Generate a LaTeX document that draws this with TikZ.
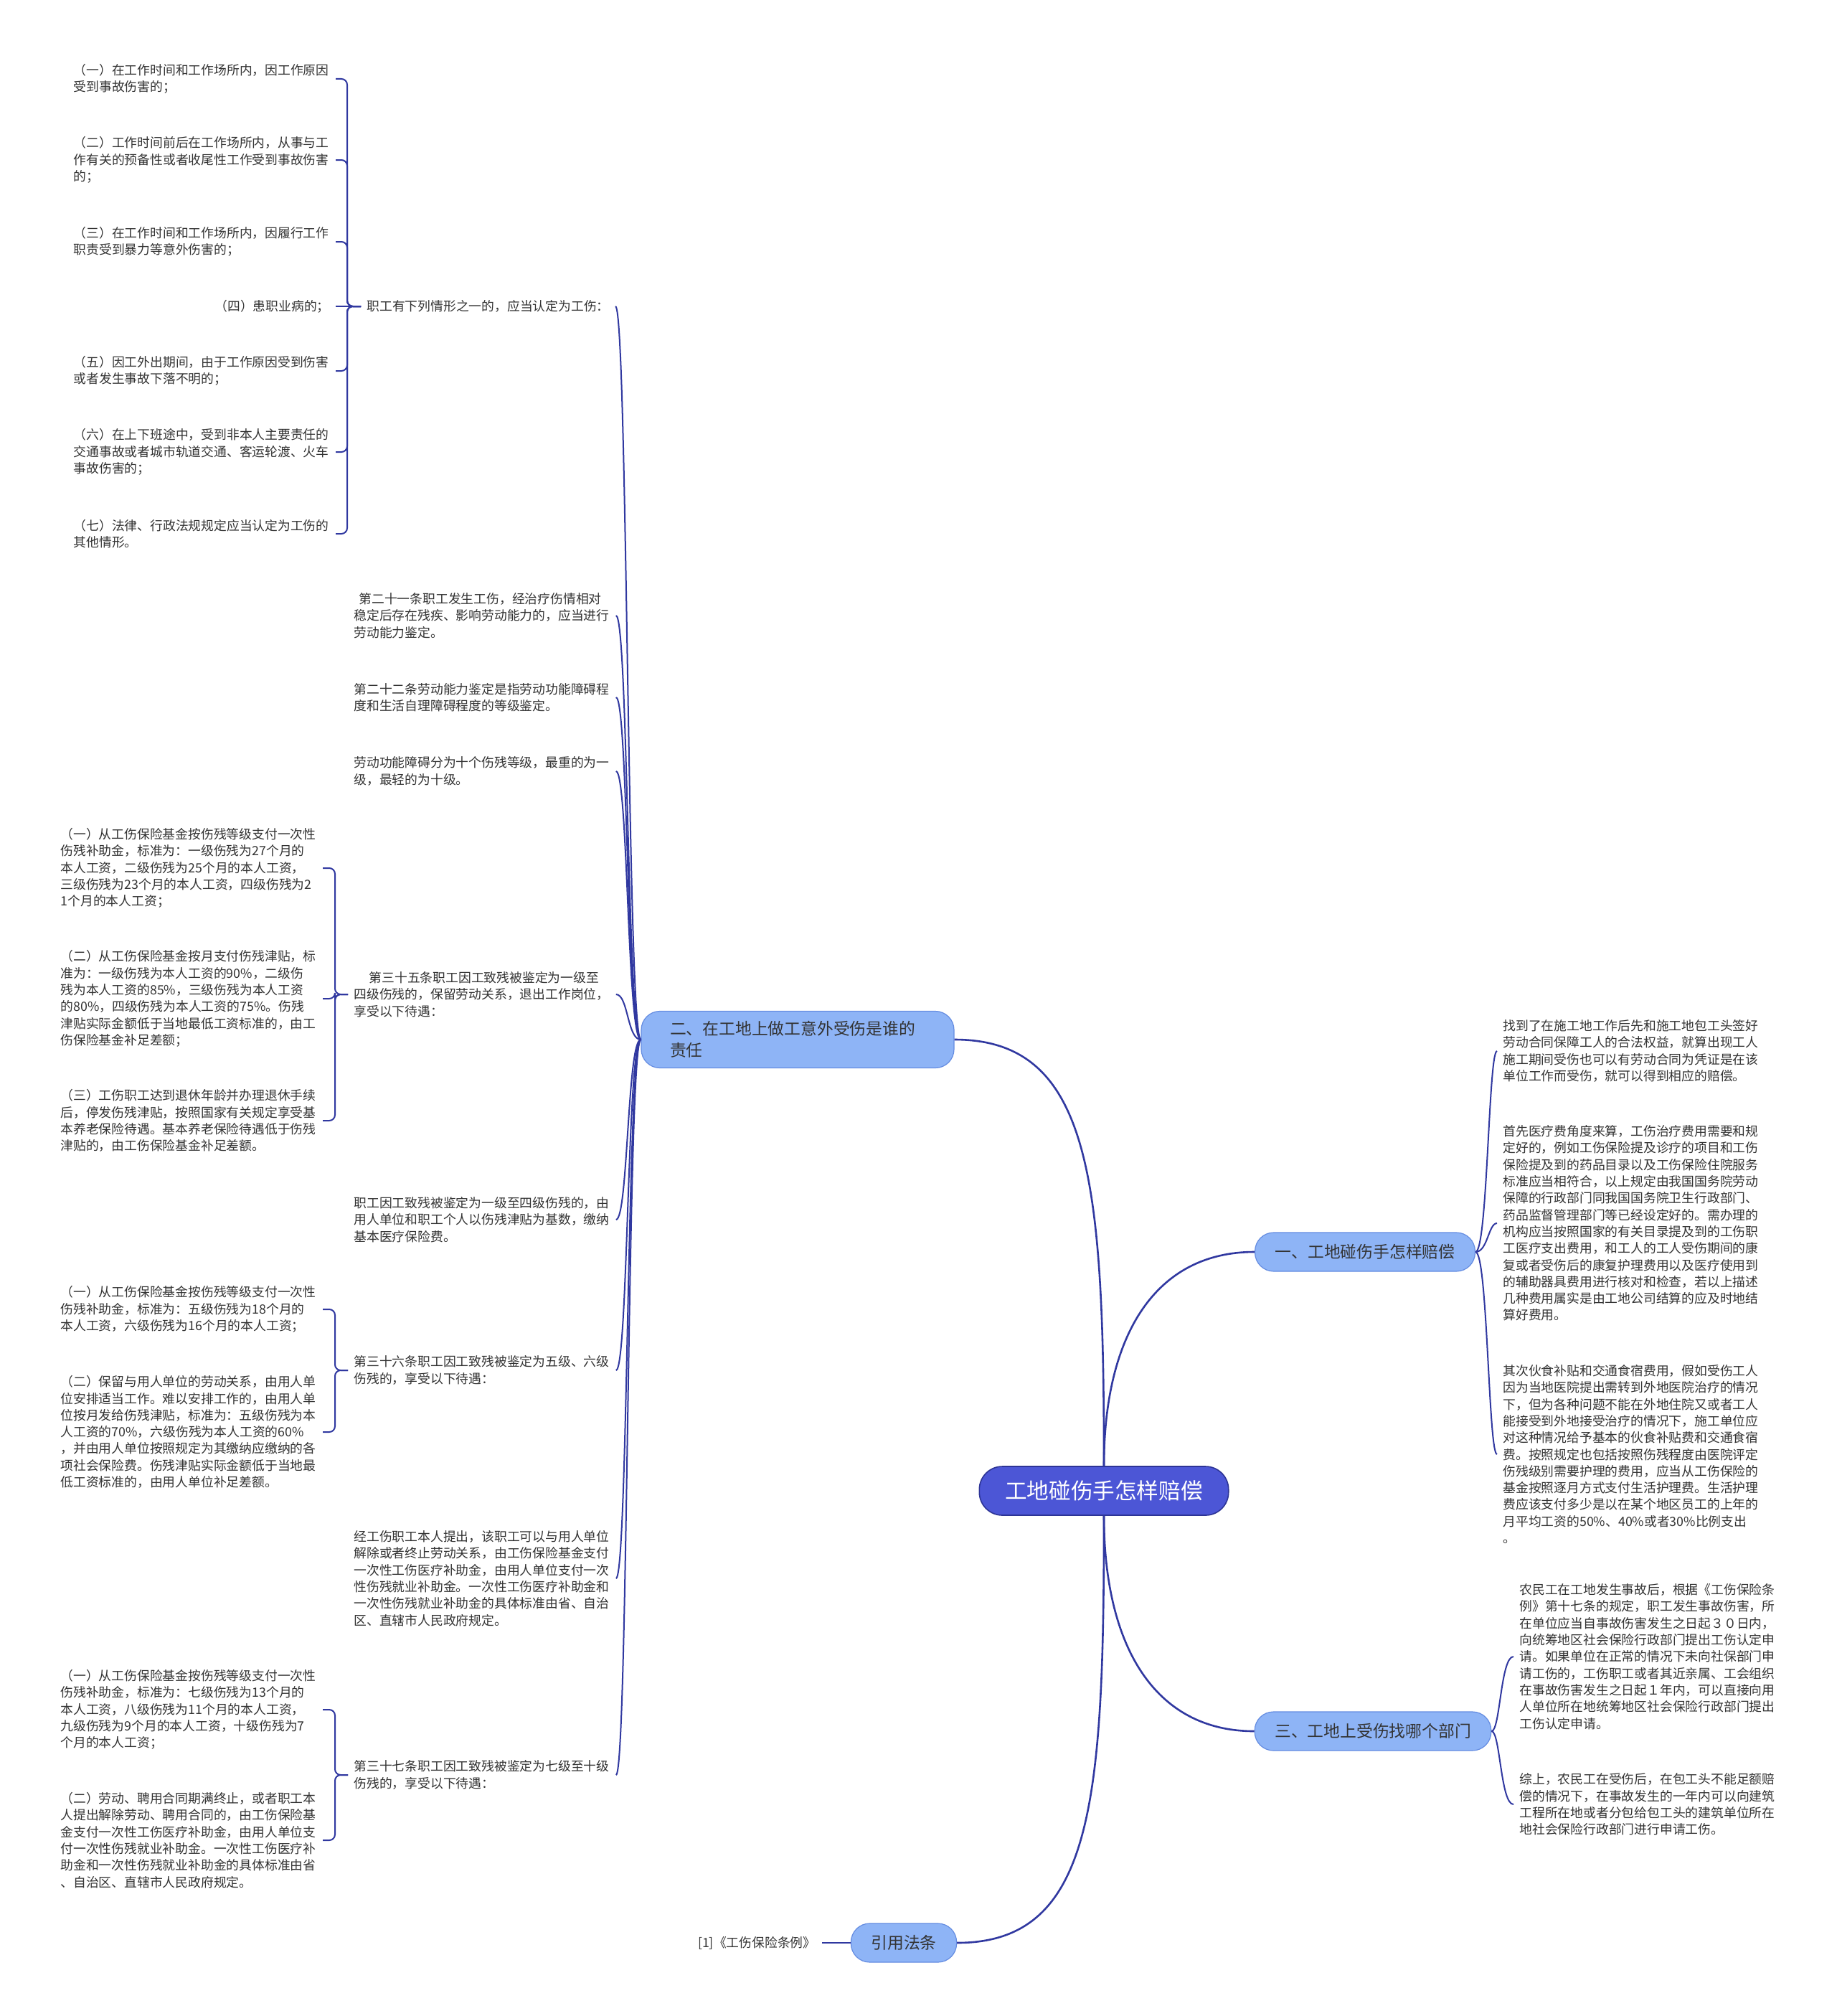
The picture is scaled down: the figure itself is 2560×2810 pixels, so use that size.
\documentclass[tikz,border=0pt]{standalone}
\usepackage{fontspec}
\setmainfont{Noto Sans CJK SC}
\usetikzlibrary{positioning}
\definecolor{linkblue}{RGB}{48,56,160}
\definecolor{rootfill}{RGB}{76,86,214}
\definecolor{rootline}{RGB}{45,52,150}
\definecolor{brfill}{RGB}{142,180,246}
\definecolor{brline}{RGB}{100,140,225}
\definecolor{txtgray}{RGB}{51,51,51}

\begin{document}
\begin{tikzpicture}[
  x=0.5pt, y=0.5pt,
  root/.style={
    rectangle, rounded corners=16pt, fill=rootfill, draw=rootline, line width=0.8pt,
    text=white, font=\fontsize{15.3pt}{19pt}\selectfont, minimum height=34pt, inner xsep=18pt
  },
  branch/.style={
    rectangle, rounded corners=13pt, fill=brfill, draw=brline, line width=0.6pt,
    text=txtgray, font=\fontsize{11.4pt}{15.2pt}\selectfont, minimum height=27pt, inner xsep=14pt
  },
  txt/.style={text=txtgray, font=\fontsize{8.9pt}{11.65pt}\selectfont, align=left, inner xsep=4pt, inner ysep=2pt},
  leaf/.style={txt, text width=178.5pt},
  link/.style={draw=linkblue, line width=1pt},
  trunk/.style={draw=linkblue, line width=1.3pt},
  brace/.style={link, rounded corners=4pt},
]

\path[use as bounding box, fill=white] (0,0) rectangle (2560,-2810);

\node[root] (R) at (1539,-2078) {工地碰伤手怎样赔偿};

\node[branch, text width=178pt, inner xsep=20pt, minimum height=39.5pt, align=left] (B2) at (1112,-1449) {二、在工地上做工意外受伤是谁的\\责任};
\node[branch] (B1) at (1903,-1745) {一、工地碰伤手怎样赔偿};
\node[branch] (B3) at (1914,-2413) {三、工地上受伤找哪个部门};
\node[branch] (B4) at (1260,-2708) {引用法条};
\node[txt, left=20pt of B4] (REF) {[1]《工伤保险条例》};

\node[txt, anchor=west] (M1) at (503,-427) {职工有下列情形之一的，应当认定为工伤：};
\node[leaf, anchor=west] (M2) at (485,-858) {\hspace*{0.4em}第二十一条职工发生工伤，经治疗伤情相对\\稳定后存在残疾、影响劳动能力的，应当进行\\劳动能力鉴定。};
\node[leaf, anchor=west] (M3) at (485,-972) {第二十二条劳动能力鉴定是指劳动功能障碍程\\度和生活自理障碍程度的等级鉴定。};
\node[leaf, anchor=west] (M4) at (485,-1075) {劳动功能障碍分为十个伤残等级，最重的为一\\级，最轻的为十级。};
\node[leaf, anchor=west] (M5) at (485,-1386) {\hspace*{1.2em}第三十五条职工因工致残被鉴定为一级至\\四级伤残的，保留劳动关系，退出工作岗位，\\享受以下待遇：};
\node[leaf, anchor=west] (M6) at (485,-1700) {职工因工致残被鉴定为一级至四级伤残的，由\\用人单位和职工个人以伤残津贴为基数，缴纳\\基本医疗保险费。};
\node[leaf, anchor=west] (M7) at (485,-1910) {第三十六条职工因工致残被鉴定为五级、六级\\伤残的，享受以下待遇：};
\node[leaf, anchor=west] (M8) at (485,-2200) {经工伤职工本人提出，该职工可以与用人单位\\解除或者终止劳动关系，由工伤保险基金支付\\一次性工伤医疗补助金，由用人单位支付一次\\性伤残就业补助金。一次性工伤医疗补助金和\\一次性伤残就业补助金的具体标准由省、自治\\区、直辖市人民政府规定。};
\node[leaf, anchor=west] (M9) at (485,-2474) {第三十七条职工因工致残被鉴定为七级至十级\\伤残的，享受以下待遇：};

\node[leaf, anchor=east] (L1) at (468,-110) {（一）在工作时间和工作场所内，因工作原因\\受到事故伤害的；};
\node[leaf, anchor=east] (L2) at (468,-223) {（二）工作时间前后在工作场所内，从事与工\\作有关的预备性或者收尾性工作受到事故伤害\\的；};
\node[leaf, anchor=east] (L3) at (468,-337) {（三）在工作时间和工作场所内，因履行工作\\职责受到暴力等意外伤害的；};
\node[txt, anchor=east] (L4) at (468,-427) {（四）患职业病的；};
\node[leaf, anchor=east] (L5) at (468,-517) {（五）因工外出期间，由于工作原因受到伤害\\或者发生事故下落不明的；};
\node[leaf, anchor=east] (L6) at (468,-630) {（六）在上下班途中，受到非本人主要责任的\\交通事故或者城市轨道交通、客运轮渡、火车\\事故伤害的；};
\node[leaf, anchor=east] (L7) at (468,-744) {（七）法律、行政法规规定应当认定为工伤的\\其他情形。};

\node[leaf, anchor=east] (P1) at (450,-1210) {（一）从工伤保险基金按伤残等级支付一次性\\伤残补助金，标准为：一级伤残为27个月的\\本人工资，二级伤残为25个月的本人工资，\\三级伤残为23个月的本人工资，四级伤残为2\\1个月的本人工资；};
\node[leaf, anchor=east] (P2) at (450,-1392) {（二）从工伤保险基金按月支付伤残津贴，标\\准为：一级伤残为本人工资的90\%，二级伤\\残为本人工资的85\%，三级伤残为本人工资\\的80\%，四级伤残为本人工资的75\%。伤残\\津贴实际金额低于当地最低工资标准的，由工\\伤保险基金补足差额；};
\node[leaf, anchor=east] (P3) at (450,-1562) {（三）工伤职工达到退休年龄并办理退休手续\\后，停发伤残津贴，按照国家有关规定享受基\\本养老保险待遇。基本养老保险待遇低于伤残\\津贴的，由工伤保险基金补足差额。};

\node[leaf, anchor=east] (Q1) at (450,-1825) {（一）从工伤保险基金按伤残等级支付一次性\\伤残补助金，标准为：五级伤残为18个月的\\本人工资，六级伤残为16个月的本人工资；};
\node[leaf, anchor=east] (Q2) at (450,-1996) {（二）保留与用人单位的劳动关系，由用人单\\位安排适当工作。难以安排工作的，由用人单\\位按月发给伤残津贴，标准为：五级伤残为本\\人工资的70\%，六级伤残为本人工资的60\%\\，并由用人单位按照规定为其缴纳应缴纳的各\\项社会保险费。伤残津贴实际金额低于当地最\\低工资标准的，由用人单位补足差额。};

\node[leaf, anchor=east] (T1) at (450,-2383) {（一）从工伤保险基金按伤残等级支付一次性\\伤残补助金，标准为：七级伤残为13个月的\\本人工资，八级伤残为11个月的本人工资，\\九级伤残为9个月的本人工资，十级伤残为7\\个月的本人工资；};
\node[leaf, anchor=east] (T2) at (450,-2565) {（二）劳动、聘用合同期满终止，或者职工本\\人提出解除劳动、聘用合同的，由工伤保险基\\金支付一次性工伤医疗补助金，由用人单位支\\付一次性伤残就业补助金。一次性工伤医疗补\\助金和一次性伤残就业补助金的具体标准由省\\、自治区、直辖市人民政府规定。};

\node[leaf, anchor=west] (K1) at (2087,-1465) {找到了在施工地工作后先和施工地包工头签好\\劳动合同保障工人的合法权益，就算出现工人\\施工期间受伤也可以有劳动合同为凭证是在该\\单位工作而受伤，就可以得到相应的赔偿。};
\node[leaf, anchor=west] (K2) at (2087,-1705) {首先医疗费角度来算，工伤治疗费用需要和规\\定好的，例如工伤保险提及诊疗的项目和工伤\\保险提及到的药品目录以及工伤保险住院服务\\标准应当相符合，以上规定由我国国务院劳动\\保障的行政部门同我国国务院卫生行政部门、\\药品监督管理部门等已经设定好的。需办理的\\机构应当按照国家的有关目录提及到的工伤职\\工医疗支出费用，和工人的工人受伤期间的康\\复或者受伤后的康复护理费用以及医疗使用到\\的辅助器具费用进行核对和检查，若以上描述\\几种费用属实是由工地公司结算的应及时地结\\算好费用。};
\node[leaf, anchor=west] (K3) at (2087,-2027) {其次伙食补贴和交通食宿费用，假如受伤工人\\因为当地医院提出需转到外地医院治疗的情况\\下，但为各种问题不能在外地住院又或者工人\\能接受到外地接受治疗的情况下，施工单位应\\对这种情况给予基本的伙食补贴费和交通食宿\\费。按照规定也包括按照伤残程度由医院评定\\伤残级别需要护理的费用，应当从工伤保险的\\基金按照逐月方式支付生活护理费。生活护理\\费应该支付多少是以在某个地区员工的上年的\\月平均工资的50\%、40\%或者30\%比例支出\\。};

\node[leaf, anchor=west] (S1) at (2110,-2309) {农民工在工地发生事故后，根据《工伤保险条\\例》第十七条的规定，职工发生事故伤害，所\\在单位应当自事故伤害发生之日起３０日内，\\向统筹地区社会保险行政部门提出工伤认定申\\请。如果单位在正常的情况下未向社保部门申\\请工伤的，工伤职工或者其近亲属、工会组织\\在事故伤害发生之日起１年内，可以直接向用\\人单位所在地统筹地区社会保险行政部门提出\\工伤认定申请。};
\node[leaf, anchor=west] (S2) at (2110,-2515) {综上，农民工在受伤后，在包工头不能足额赔\\偿的情况下，在事故发生的一年内可以向建筑\\工程所在地或者分包给包工头的建筑单位所在\\地社会保险行政部门进行申请工伤。};

\draw[trunk] (R.north) to[out=90, in=0, out distance=200pt, in distance=95pt] (B2.east);
\draw[trunk] (R.north) to[out=90, in=180, out distance=90pt, in distance=70pt] (B1.west);
\draw[trunk] (R.south) to[out=-90, in=180, out distance=90pt, in distance=70pt] (B3.west);
\draw[trunk] (R.south) to[out=-90, in=0, out distance=200pt, in distance=95pt] (B4.east);
\draw[link] (B4.west) -- (REF.east);

\draw[link] (B2.west) to[out=180, in=0, out distance=9.5pt, in distance=8.5pt] (M1.east);
\draw[link] (B2.west) to[out=180, in=0, out distance=9.5pt, in distance=8.5pt] (M2.east);
\draw[link] (B2.west) to[out=180, in=0, out distance=9.5pt, in distance=8.5pt] (M3.east);
\draw[link] (B2.west) to[out=180, in=0, out distance=9.5pt, in distance=8.5pt] (M4.east);
\draw[link] (B2.west) to[out=180, in=0, out distance=9.5pt, in distance=8.5pt] (M5.east);
\draw[link] (B2.west) to[out=180, in=0, out distance=9.5pt, in distance=8.5pt] (M6.east);
\draw[link] (B2.west) to[out=180, in=0, out distance=9.5pt, in distance=8.5pt] (M7.east);
\draw[link] (B2.west) to[out=180, in=0, out distance=9.5pt, in distance=8.5pt] (M8.east);
\draw[link] (B2.west) to[out=180, in=0, out distance=9.5pt, in distance=8.5pt] (M9.east);

\draw[brace] (M1.west) -- ++(-19,0) |- (L1.east);
\draw[brace] (M1.west) -- ++(-19,0) |- (L2.east);
\draw[brace] (M1.west) -- ++(-19,0) |- (L3.east);
\draw[brace] (M1.west) -- (L4.east);
\draw[brace] (M1.west) -- ++(-19,0) |- (L5.east);
\draw[brace] (M1.west) -- ++(-19,0) |- (L6.east);
\draw[brace] (M1.west) -- ++(-19,0) |- (L7.east);

\draw[brace] (M5.west) -- ++(-18,0) |- (P1.east);
\draw[brace] (M5.west) -- ++(-18,0) |- (P2.east);
\draw[brace] (M5.west) -- ++(-18,0) |- (P3.east);

\draw[brace] (M7.west) -- ++(-18,0) |- (Q1.east);
\draw[brace] (M7.west) -- ++(-18,0) |- (Q2.east);

\draw[brace] (M9.west) -- ++(-18,0) |- (T1.east);
\draw[brace] (M9.west) -- ++(-18,0) |- (T2.east);

\draw[link] (B1.east) to[out=0, in=180, out distance=8.5pt, in distance=6pt] (K1.west);
\draw[link] (B1.east) to[out=0, in=180, out distance=8.5pt, in distance=6pt] (K2.west);
\draw[link] (B1.east) to[out=0, in=180, out distance=8.5pt, in distance=6pt] (K3.west);

\draw[link] (B3.east) to[out=0, in=180, out distance=6pt, in distance=9pt] (S1.west);
\draw[link] (B3.east) to[out=0, in=180, out distance=6pt, in distance=9pt] (S2.west);

\end{tikzpicture}
\end{document}
